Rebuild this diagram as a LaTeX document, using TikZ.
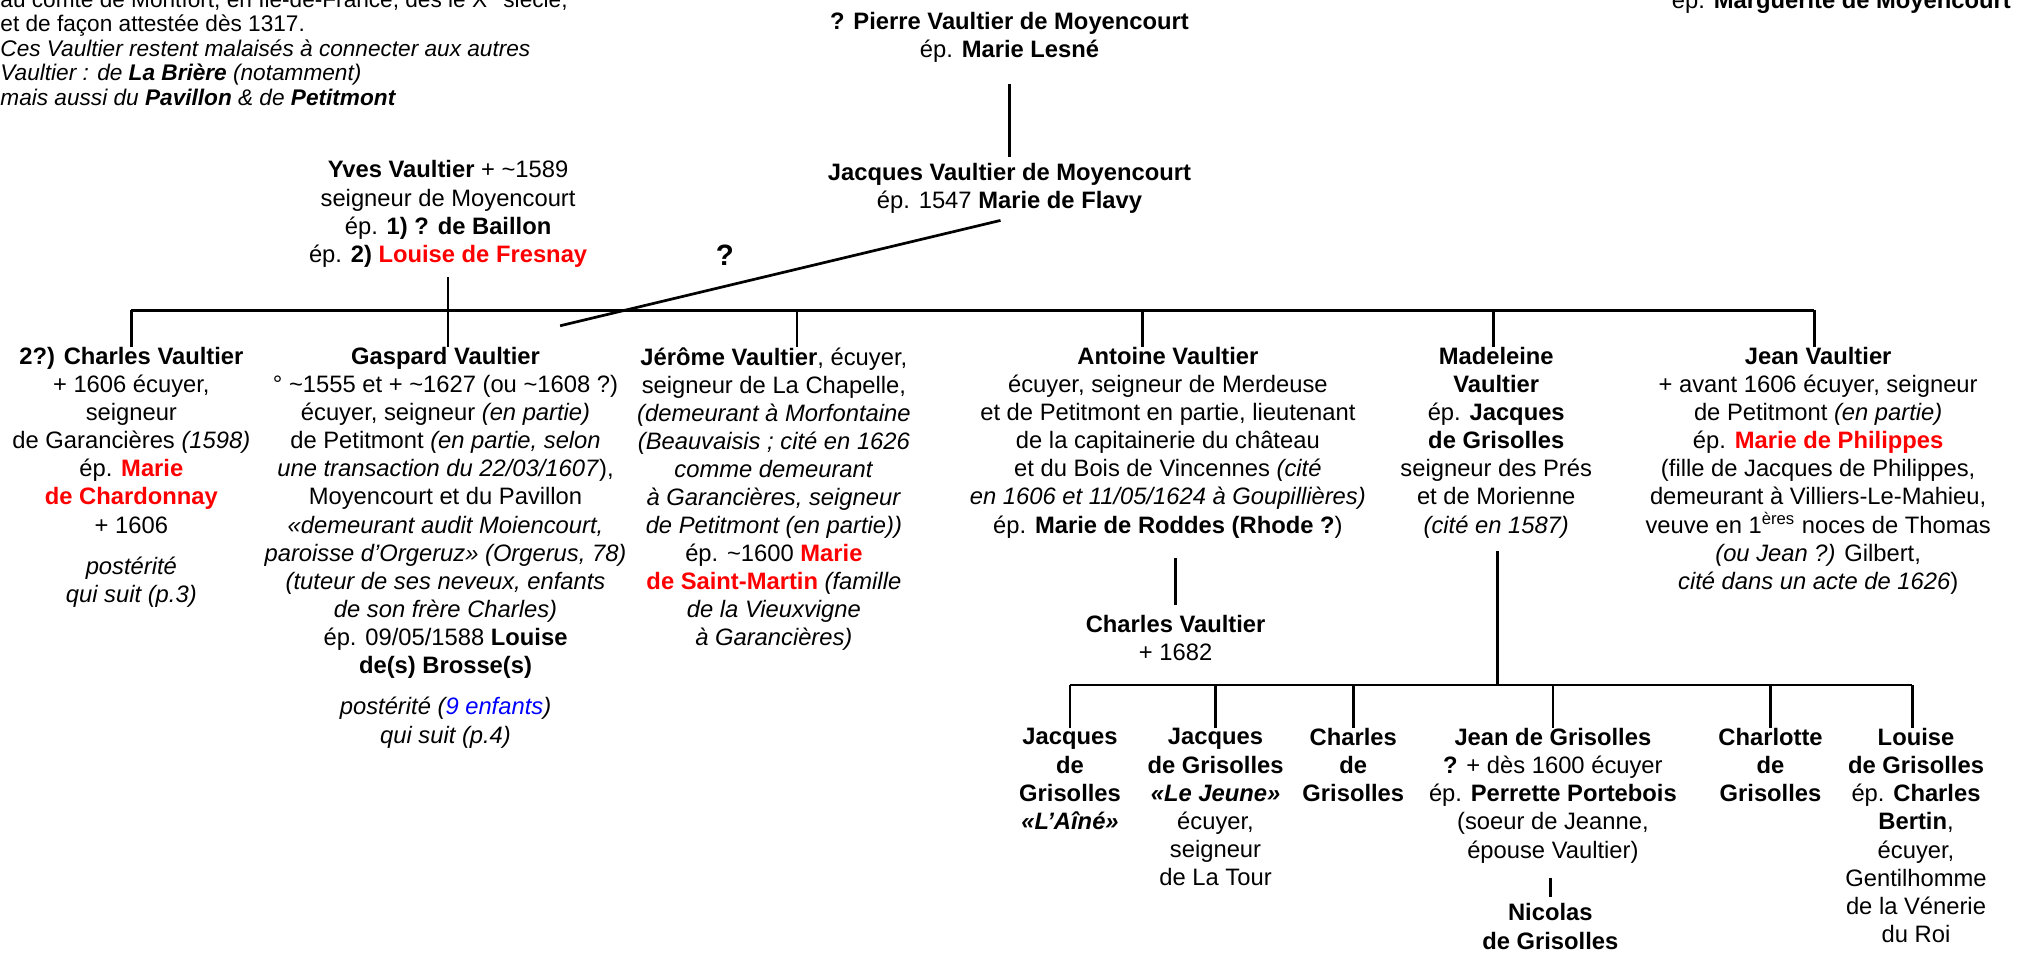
\documentclass[tikz,border=0pt]{standalone}
\usepackage{fontspec}
\setmainfont{Liberation Sans}
\usepackage{tikz}
\usetikzlibrary{positioning}

\definecolor{rouge}{RGB}{255,0,0}
\definecolor{bleu}{RGB}{0,0,255}
\newcommand{\rouge}[1]{\textcolor{rouge}{\textbf{#1}}}

\tikzset{
  person/.style={align=center, inner sep=0pt, anchor=north},
  lien/.style={line width=1.2pt},
}

\begin{document}
\begin{tikzpicture}[font=\fontsize{10.5}{12.4}\selectfont]
        \useasboundingbox (0,0) rectangle (31.36,-14.82);

        % note en haut a gauche
        \node[person, anchor=north west, align=left, font=\fontsize{10}{10.8}\selectfont] (note) at (0,0.2)
            {au comté de Montfort, en Île-de-France, dès le X\textsuperscript{e} siècle,\\
             et de façon attestée dès 1317.\\
             \textit{Ces Vaultier restent malaisés à connecter aux autres}\\
             \textit{Vaultier : de \textbf{La Brière} (notamment)}\\
             \textit{mais aussi du \textbf{Pavillon} \& de \textbf{Petitmont}}};
        \node[person, anchor=north east] (marguerite) at (31.24,0.14) {ép. \textbf{Marguerite de Moyencourt}};

        % ascendants
        \node[person] (pierre) at (15.68,-0.19) {\textbf{? Pierre Vaultier de Moyencourt}\\ ép. \textbf{Marie Lesné}};
        \node[person] (jacques) at (15.68,-2.53) {\textbf{Jacques Vaultier de Moyencourt}\\ ép. 1547 \textbf{Marie de Flavy}};
        \node[person] (yves) at (6.96,-2.49) {\textbf{Yves Vaultier} + \textasciitilde1589\\ seigneur de Moyencourt\\
            ép. \textbf{1) ? de Baillon}\\ ép. \textbf{2)} \rouge{Louise de Fresnay}};
        \node[font=\fontsize{13}{15}\selectfont] (doute) at (11.26,-3.97) {\textbf{?}};
        \coordinate (barre) at (0,-4.82);
        \coordinate (fin) at (8.70,-5.06);

        % enfants d'Yves
        \node[person] (charles) at (2.04,-5.39) {\textbf{2?) Charles Vaultier}\\ + 1606 écuyer,\\ seigneur\\
            de Garancières \textit{(1598)}\\ ép. \rouge{Marie}\\ \rouge{de Chardonnay}\\ + 1606\\[6pt]
            \textit{postérité}\\ \textit{qui suit (p.3)}};
        \node[person] (gaspard) at (6.92,-5.39) {\textbf{Gaspard Vaultier}\\ ° \textasciitilde1555 et + \textasciitilde1627 (ou \textasciitilde1608 ?)\\
            écuyer, seigneur \textit{(en partie)}\\ de Petitmont \textit{(en partie, selon}\\
            \textit{une transaction du 22/03/1607}),\\ Moyencourt et du Pavillon\\
            \textit{«demeurant audit Moiencourt,}\\ \textit{paroisse d'Orgeruz» (Orgerus, 78)}\\
            \textit{(tuteur de ses neveux, enfants}\\ \textit{de son frère Charles)}\\
            ép. 09/05/1588 \textbf{Louise}\\ \textbf{de(s) Brosse(s)}\\[6pt]
            \textit{postérité (\textcolor{bleu}{9 enfants})}\\ \textit{qui suit (p.4)}};
        \node[person] (jerome) at (12.02,-5.39) {\textbf{Jérôme Vaultier}, écuyer,\\ seigneur de La Chapelle,\\
            \textit{(demeurant à Morfontaine}\\ \textit{(Beauvaisis ; cité en 1626}\\ \textit{comme demeurant}\\
            \textit{à Garancières, seigneur}\\ \textit{de Petitmont (en partie))}\\ ép. \textasciitilde1600 \rouge{Marie}\\
            \rouge{de Saint-Martin} \textit{(famille}\\ \textit{de la Vieuxvigne}\\ \textit{à Garancières)}};
        \node[person] (antoine) at (18.14,-5.39) {\textbf{Antoine Vaultier}\\ écuyer, seigneur de Merdeuse\\
            et de Petitmont en partie, lieutenant\\ de la capitainerie du château\\
            et du Bois de Vincennes \textit{(cité}\\ \textit{en 1606 et 11/05/1624 à Goupillières)}\\
            ép. \textbf{Marie de Roddes (Rhode ?}{)}};
        \node[person] (madeleine) at (23.24,-5.39) {\textbf{Madeleine}\\ \textbf{Vaultier}\\ ép. \textbf{Jacques}\\
            \textbf{de Grisolles}\\ seigneur des Prés\\ et de Morienne\\ \textit{(cité en 1587)}};
        \node[person] (jean) at (28.24,-5.39) {\textbf{Jean Vaultier}\\ + avant 1606 écuyer, seigneur\\
            de Petitmont \textit{(en partie)}\\ ép. \rouge{Marie de Philippes}\\ (fille de Jacques de Philippes,\\
            demeurant à Villiers-Le-Mahieu,\\ veuve en 1\textsuperscript{ères} noces de Thomas\\
            \textit{(ou Jean ?)} Gilbert,\\ \textit{cité dans un acte de 1626})};
        \node[person] (charles2) at (18.26,-9.55) {\textbf{Charles Vaultier}\\ + 1682};
        \coordinate (barre2) at (0,-10.64);

        % enfants de Madeleine
        \node[person] (gjacques) at (16.62,-11.31) {\textbf{Jacques}\\ \textbf{de}\\ \textbf{Grisolles}\\ \textbf{\textit{«L'Aîné»}}};
        \node[person] (gjeune) at (18.88,-11.31) {\textbf{Jacques}\\ \textbf{de Grisolles}\\ \textbf{\textit{«Le Jeune»}}\\
            écuyer,\\ seigneur\\ de La Tour};
        \node[person] (gcharles) at (21.02,-11.31) {\textbf{Charles}\\ \textbf{de}\\ \textbf{Grisolles}};
        \node[person] (gjean) at (24.12,-11.31) {\textbf{Jean de Grisolles}\\ \textbf{?} + dès 1600 écuyer\\
            ép. \textbf{Perrette Portebois}\\ (soeur de Jeanne,\\ épouse Vaultier)};
        \node[person] (gcharlotte) at (27.5,-11.31) {\textbf{Charlotte}\\ \textbf{de}\\ \textbf{Grisolles}};
        \node[person] (glouise) at (29.76,-11.31) {\textbf{Louise}\\ \textbf{de Grisolles}\\ ép. \textbf{Charles}\\
            \textbf{Bertin},\\ écuyer,\\ Gentilhomme\\ de la Vénerie\\ du Roi};
        \node[person] (nicolas) at (24.08,-14.03) {\textbf{Nicolas}\\ \textbf{de Grisolles}};

        % liens
        \draw[lien, shorten <=0.32cm, shorten >=0.09cm] (pierre.south) -- (jacques.north);
        \draw[lien] ([xshift=-0.14cm, yshift=-0.1cm]jacques.south) -- (fin);
        \draw[lien, shorten <=0.15cm] (yves.south) -- (yves.south |- barre);
        \draw[lien] (charles.north |- barre) -- ([xshift=-0.06cm]jean.north |- barre);
        \draw[lien] (charles.north |- barre) -- (charles.north);
        \draw[lien] ([xshift=0.04cm]gaspard.north |- barre) -- ([xshift=0.04cm]gaspard.north);
        \draw[lien] ([xshift=0.36cm]jerome.north |- barre) -- ([xshift=0.36cm]jerome.north);
        \draw[lien] ([xshift=-0.4cm]antoine.north |- barre) -- ([xshift=-0.4cm]antoine.north);
        \draw[lien] ([xshift=-0.04cm]madeleine.north |- barre) -- ([xshift=-0.04cm]madeleine.north);
        \draw[lien] ([xshift=-0.06cm]jean.north |- barre) -- ([xshift=-0.06cm]jean.north);
        \draw[lien, shorten <=0.3cm, shorten >=0.15cm] (charles2.north |- antoine.south) -- (charles2.north);
        \draw[lien, shorten <=0.2cm] ([xshift=0.02cm]madeleine.south) -- ([xshift=0.02cm]madeleine.south |- barre2);
        \draw[lien] (gjacques.north |- barre2) -- ([xshift=-0.06cm]glouise.north |- barre2);
        \foreach \n in {gjacques, gjeune, gcharles, gjean, gcharlotte}
            \draw[lien] (\n.north |- barre2) -- (\n.north);
        \draw[lien] ([xshift=-0.06cm]glouise.north |- barre2) -- ([xshift=-0.06cm]glouise.north);
        \draw[lien, shorten <=0.22cm, shorten >=0.1cm] (gjean.south -| nicolas.north) -- (nicolas.north);
\end{tikzpicture}
\end{document}
